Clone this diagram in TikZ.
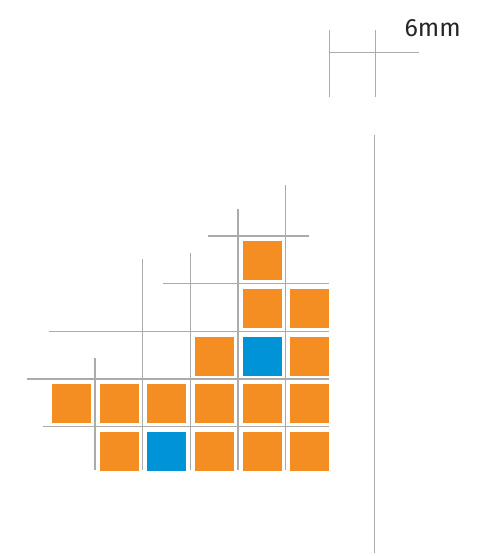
\documentclass[tikz,border=0pt]{standalone}
\usepackage{fontspec}
\setmainfont{Fira Sans}
\definecolor{cellorange}{HTML}{F58E22}
\definecolor{cellblue}{HTML}{0093D6}
\definecolor{gridgray}{HTML}{ABABAB}
\begin{document}
\begin{tikzpicture}[x=1pt,y=-1pt,
  gridline/.style={draw=gridgray,line width=1.3pt},
  cell/.style={rectangle,minimum width=40pt,minimum height=40pt,inner sep=0pt,anchor=north west,draw=white,line width=0.6pt},
  orangecell/.style={cell,fill=cellorange},
  bluecell/.style={cell,fill=cellblue}]
\useasboundingbox (0,0) rectangle (481,556);
% horizontal grid lines
\draw[gridline] (207.7,236) -- (309.3,236);
\draw[gridline] (162.7,283.7) -- (329.3,283.7);
\draw[gridline] (49.3,331.3) -- (329.3,331.3);
\draw[gridline] (27.3,379) -- (329.3,379);
\draw[gridline] (43.3,426.7) -- (329.3,426.7);
% vertical grid lines
\draw[gridline] (95,358.3) -- (95,470.3);
\draw[gridline] (142.7,259) -- (142.7,470.3);
\draw[gridline] (190.3,253) -- (190.3,470.3);
\draw[gridline] (238,208.7) -- (238,470.3);
\draw[gridline] (285.7,185) -- (285.7,470.3);
% cells
\node[orangecell] (r0c4) at (241.7,240) {};
\node[orangecell] (r1c4) at (241.7,287.7) {};
\node[orangecell] (r1c5) at (289.3,287.7) {};
\node[orangecell] (r2c3) at (194,335.5) {};
\node[bluecell]   (r2c4) at (241.7,335.5) {};
\node[orangecell] (r2c5) at (289.3,335.5) {};
\node[orangecell] (r3c0) at (51,383.3) {};
\node[orangecell] (r3c1) at (98.7,383.3) {};
\node[orangecell] (r3c2) at (146.3,383.3) {};
\node[orangecell] (r3c3) at (194,383.3) {};
\node[orangecell] (r3c4) at (241.7,383.3) {};
\node[orangecell] (r3c5) at (289.3,383.3) {};
\node[orangecell] (r4c1) at (98.7,430.5) {};
\node[bluecell]   (r4c2) at (146.3,430.5) {};
\node[orangecell] (r4c3) at (194,430.5) {};
\node[orangecell] (r4c4) at (241.7,430.5) {};
\node[orangecell] (r4c5) at (289.3,430.5) {};
% scale marker
\draw[gridline] (329.3,30) -- (329.3,97.3);
\draw[gridline] (375.7,30) -- (375.7,97.3);
\draw[gridline] (329.3,52.3) -- (419.3,52.3);
\node[inner sep=0pt,anchor=base west,text=black!85] (lbl) at (404.3,36.5) {\fontsize{25}{30}\selectfont 6mm};
% long vertical line
\draw[gridline] (374.3,135) -- (374.3,553.3);
\end{tikzpicture}
\end{document}
